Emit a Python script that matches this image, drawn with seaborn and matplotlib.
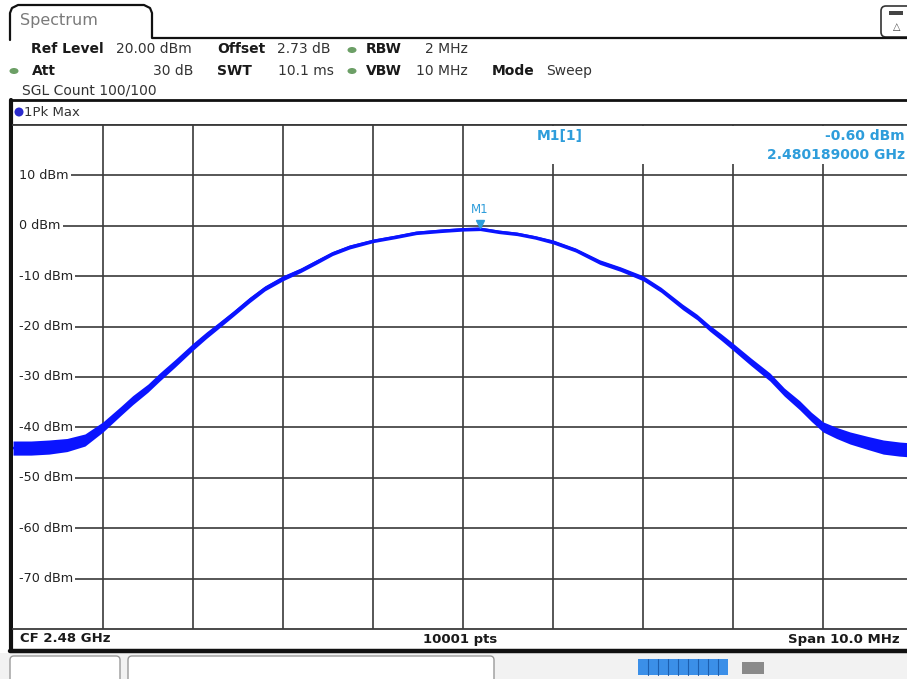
import numpy as np
import matplotlib
matplotlib.use("Agg")
import matplotlib.pyplot as plt
import matplotlib.transforms as mtransforms
from matplotlib.patches import FancyBboxPatch, Ellipse, Rectangle
import seaborn as sns

# ---------------- data ----------------
center_freq_mhz = 2480.0
span_mhz = 10.0
freq_offset_mhz = [-5.0, -4.8, -4.6, -4.4, -4.2, -4.0, -3.8, -3.67, -3.5, -3.37,
                   -3.2, -3.0, -2.85, -2.73, -2.55, -2.37, -2.2, -2.0, -1.8, -1.63,
                   -1.45, -1.26, -1.0, -0.75, -0.52, -0.25, 0.0, 0.19, 0.4, 0.6,
                   0.8, 1.0, 1.25, 1.52, 1.75, 2.0, 2.2, 2.44, 2.6, 2.74,
                   2.87, 3.0, 3.2, 3.41, 3.57, 3.74, 3.87, 4.0, 4.15, 4.3,
                   4.5, 4.67, 4.85, 5.0]
level_dbm = [-44.1, -44.1, -43.9, -43.5, -42.5, -39.9, -36.7, -34.6, -32.2, -30.0,
             -27.3, -24.0, -21.7, -20.0, -17.4, -14.7, -12.4, -10.4, -8.8, -7.2,
             -5.5, -4.2, -3.0, -2.2, -1.4, -1.0, -0.7, -0.6, -1.2, -1.6,
             -2.3, -3.2, -4.8, -7.2, -8.6, -10.4, -12.7, -16.1, -18.1, -20.3,
             -22.1, -24.0, -27.0, -30.0, -33.0, -35.6, -37.9, -39.9, -41.1, -42.1,
             -43.1, -43.9, -44.3, -44.5]
noise_halfwidth_db = [1.4, 1.4, 1.4, 1.3, 1.2, 1.0, 0.9, 0.9, 0.8, 0.8,
                      0.75, 0.7, 0.65, 0.6, 0.55, 0.55, 0.5, 0.5, 0.45, 0.45,
                      0.4, 0.4, 0.35, 0.35, 0.35, 0.35, 0.35, 0.35, 0.35, 0.35,
                      0.35, 0.4, 0.4, 0.45, 0.45, 0.5, 0.5, 0.55, 0.55, 0.6,
                      0.65, 0.7, 0.75, 0.8, 0.8, 0.9, 0.9, 1.0, 1.1, 1.2,
                      1.3, 1.4, 1.4, 1.4]
y_ticks_dbm = [10, 0, -10, -20, -30, -40, -50, -60, -70]
y_min, y_max = -80, 20
marker_freq_ghz = 2.480189
marker_level_dbm = -0.60

TRACE = "#0a14ff"
MKR = "#2e9ddb"
GRID = "#3a3a3a"

sns.set_theme(style="white")
plt.rcParams["font.family"] = ["DejaVu Sans"]

W, H = 907, 679
fig = plt.figure(figsize=(W / 100, H / 100), dpi=100)
fig.patch.set_facecolor("white")

# background axes in pixel coordinates for instrument decorations
bg = fig.add_axes([0, 0, 1, 1], zorder=0)
bg.set_xlim(0, W)
bg.set_ylim(H, 0)
bg.axis("off")

# main plotting area: grid from x=13..913 px, y=125..629 px
left, right, top, bottom = 13, 913, 125, 629
ax = fig.add_axes([left / W, (H - bottom) / H, (right - left) / W, (bottom - top) / H], zorder=2)
ax.set_facecolor("white")
ax.set_xlim(-span_mhz / 2, span_mhz / 2)
ax.set_ylim(y_min, y_max)
ax.set_xticks(np.arange(-4, 5, 1))
ax.set_yticks(y_ticks_dbm)
ax.tick_params(length=0, labelbottom=False, labelleft=False)
ax.grid(True, color=GRID, lw=1.2)
for s in ["top", "bottom"]:
    ax.spines[s].set_color(GRID)
    ax.spines[s].set_linewidth(1.3)
ax.spines["left"].set_visible(False)
ax.spines["right"].set_visible(False)

# keep the gridlines from showing left of the level labels
ax.axvspan(-span_mhz / 2, -4.93, ymin=0.01, ymax=0.99, color="white", lw=0, zorder=2.5)

# y labels on top of grid with white background
for v in y_ticks_dbm:
    ax.text(-4.93, v, f"{v} dBm", fontsize=9.2, color="#222222", va="center", ha="left",
            zorder=3, bbox=dict(boxstyle="square,pad=0.15", fc="white", ec="none"))

# trace
lo = [l - n for l, n in zip(level_dbm, noise_halfwidth_db)]
hi = [l + n for l, n in zip(level_dbm, noise_halfwidth_db)]
ax.fill_between(freq_offset_mhz, lo, hi, color=TRACE, lw=0, zorder=4)
sns.lineplot(x=freq_offset_mhz, y=level_dbm, ax=ax, color=TRACE, lw=1.8,
             estimator=None, sort=False, zorder=5)

# marker M1
mx = (marker_freq_ghz * 1000) - center_freq_mhz
up = mtransforms.offset_copy(ax.transData, fig=fig, x=0, y=4.5, units="dots")
ax.plot([mx], [marker_level_dbm], marker="v", ms=6, color=MKR, transform=up, zorder=6)
ax.annotate("M1", xy=(mx, marker_level_dbm), xytext=(0, 9), textcoords="offset points",
            ha="center", va="bottom", fontsize=8.5, color=MKR, zorder=6)

# marker info box (white, hides grid behind it)
fig.add_artist(Rectangle((530 / W, 1 - 164 / H), (W - 530) / W, (164 - 126.5) / H,
                         transform=fig.transFigure, fc="white", ec="none", zorder=4))
fig.text(537 / W, 1 - 136 / H, "M1[1]", fontsize=10, color=MKR, fontweight="bold",
         va="center", ha="left", zorder=5)
fig.text(905 / W, 1 - 136 / H, f"{marker_level_dbm:.2f} dBm", fontsize=10, color=MKR,
         fontweight="bold", va="center", ha="right", zorder=5)
fig.text(905 / W, 1 - 155 / H, f"{marker_freq_ghz:.9f} GHz", fontsize=10, color=MKR,
         fontweight="bold", va="center", ha="right", zorder=5)

# ---------------- header decorations ----------------
tab = [(10, 40), (10, 13), (12, 8), (18, 5), (144, 5), (150, 8), (152, 13), (152, 38), (W, 38)]
bg.plot([p[0] for p in tab], [p[1] for p in tab], color="#111111", lw=1.6, solid_joinstyle="round")
bg.text(20, 21, "Spectrum", fontsize=11.5, color="#7a7a7a", va="center", ha="left")
bg.add_patch(FancyBboxPatch((881, 6), 40, 31, boxstyle="round,pad=0,rounding_size=5",
                            fc="white", ec="#333333", lw=1.2))
bg.add_patch(Rectangle((889, 11), 14, 4, fc="#444444", ec="none"))
bg.text(897, 27, "\u25b3", fontsize=7, color="#444444", ha="center", va="center")

def t(x, y, s, bold=False, ha="left", color="#1a1a1a", size=10):
    bg.text(x, y, s, fontsize=size, fontweight="bold" if bold else "normal",
            color=color, ha=ha, va="center")

def dot(x, y):
    bg.add_patch(Ellipse((x, y), 9, 6, fc="#6c9f66", ec="none"))

t(31, 49, "Ref Level", bold=True)
t(116, 49, "20.00 dBm", color="#333333")
t(217, 49, "Offset", bold=True)
t(277, 49, "2.73 dB", color="#333333")
dot(352, 50)
t(366, 49, "RBW", bold=True)
t(468, 49, "2 MHz", ha="right", color="#333333")

dot(14, 71)
t(32, 71, "Att", bold=True)
t(193, 71, "30 dB", ha="right", color="#333333")
t(217, 71, "SWT", bold=True)
t(278, 71, "10.1 ms", color="#333333")
dot(352, 71)
t(366, 71, "VBW", bold=True)
t(468, 71, "10 MHz", ha="right", color="#333333")
t(492, 71, "Mode", bold=True)
t(546, 71, "Sweep", color="#333333")
t(22, 90, "SGL Count 100/100", color="#333333")

# trace panel frame
bg.plot([10, W], [100, 100], color="#111111", lw=2.0)
bg.plot([11, 11], [100, 650], color="#111111", lw=3.0)
bg.add_patch(Ellipse((19, 112), 9, 9, fc="#2a2acc", ec="none"))
t(24, 112, "1Pk Max", color="#333333", size=9.5)
bg.plot([13, W], [124.5, 124.5], color=GRID, lw=1.3)

# bottom status row
t(20, 639, "CF 2.48 GHz", bold=True, size=9.5)
t(460, 639, "10001 pts", bold=True, ha="center", size=9.5)
t(900, 639, "Span 10.0 MHz", bold=True, ha="right", size=9.5)
bg.plot([10, W], [650.5, 650.5], color="#111111", lw=3.2)

# bottom soft-key strip
bg.add_patch(Rectangle((0, 653), W, 26, fc="#f2f2f2", ec="none"))
bg.add_patch(FancyBboxPatch((10, 656), 110, 30, boxstyle="round,pad=0,rounding_size=4",
                            fc="white", ec="#9a9a9a", lw=1.0))
bg.add_patch(FancyBboxPatch((128, 656), 366, 30, boxstyle="round,pad=0,rounding_size=4",
                            fc="white", ec="#9a9a9a", lw=1.0))
bg.add_patch(Rectangle((638, 659), 90, 16, fc="#3b8fe8", ec="none"))
for k in range(1, 9):
    bg.plot([638 + k * 10, 638 + k * 10], [659, 675], color="#1d5fb0", lw=0.8)
bg.add_patch(Rectangle((742, 662), 22, 12, fc="#8a8a8a", ec="none"))

fig.savefig("out.png", dpi=100, facecolor="white")
